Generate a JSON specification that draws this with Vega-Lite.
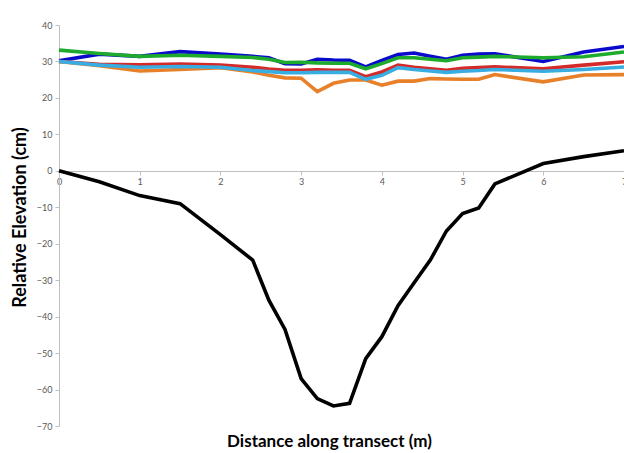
{
  "$schema": "https://vega.github.io/schema/vega-lite/v6.json",
  "width": 565,
  "height": 401,
  "autosize": "none",
  "padding": {"left": 59, "top": 25, "right": 0, "bottom": 27},
  "background": "white",
  "config": {"view": {"stroke": null}, "font": "Lato"},
  "title": {"text": "Distance along transect (m)", "orient": "bottom", "anchor": "middle", "fontSize": 17, "fontWeight": "bold", "font": "Lato", "color": "#000000", "offset": 3, "dx": -12},
  "data": {"values": [
    {"d":0,"v":30.2,"s":"s1"},{"d":0.5,"v":32.0,"s":"s1"},{"d":1.0,"v":31.4,"s":"s1"},{"d":1.5,"v":32.7,"s":"s1"},{"d":2.0,"v":32.0,"s":"s1"},{"d":2.4,"v":31.4,"s":"s1"},{"d":2.6,"v":31.0,"s":"s1"},{"d":2.8,"v":29.4,"s":"s1"},{"d":3.0,"v":29.3,"s":"s1"},{"d":3.2,"v":30.6,"s":"s1"},{"d":3.4,"v":30.4,"s":"s1"},{"d":3.6,"v":30.3,"s":"s1"},{"d":3.8,"v":28.5,"s":"s1"},{"d":4.0,"v":30.3,"s":"s1"},{"d":4.2,"v":31.9,"s":"s1"},{"d":4.4,"v":32.3,"s":"s1"},{"d":4.6,"v":31.4,"s":"s1"},{"d":4.8,"v":30.6,"s":"s1"},{"d":5.0,"v":31.7,"s":"s1"},{"d":5.2,"v":32.0,"s":"s1"},{"d":5.4,"v":32.1,"s":"s1"},{"d":6.0,"v":30.0,"s":"s1"},{"d":6.5,"v":32.6,"s":"s1"},{"d":7.0,"v":34.1,"s":"s1"},
    {"d":0,"v":30.0,"s":"s2"},{"d":0.5,"v":29.2,"s":"s2"},{"d":1.0,"v":29.1,"s":"s2"},{"d":1.5,"v":29.3,"s":"s2"},{"d":2.0,"v":29.0,"s":"s2"},{"d":2.4,"v":28.4,"s":"s2"},{"d":2.6,"v":27.9,"s":"s2"},{"d":2.8,"v":27.6,"s":"s2"},{"d":3.0,"v":27.6,"s":"s2"},{"d":3.2,"v":27.7,"s":"s2"},{"d":3.4,"v":27.6,"s":"s2"},{"d":3.6,"v":27.6,"s":"s2"},{"d":3.8,"v":25.8,"s":"s2"},{"d":4.0,"v":27.1,"s":"s2"},{"d":4.2,"v":29.0,"s":"s2"},{"d":4.4,"v":28.4,"s":"s2"},{"d":4.6,"v":28.0,"s":"s2"},{"d":4.8,"v":27.6,"s":"s2"},{"d":5.0,"v":28.1,"s":"s2"},{"d":5.2,"v":28.3,"s":"s2"},{"d":5.4,"v":28.5,"s":"s2"},{"d":6.0,"v":28.0,"s":"s2"},{"d":6.5,"v":29.0,"s":"s2"},{"d":7.0,"v":29.9,"s":"s2"},
    {"d":0,"v":30.0,"s":"s3"},{"d":0.5,"v":28.8,"s":"s3"},{"d":1.0,"v":27.4,"s":"s3"},{"d":1.5,"v":27.8,"s":"s3"},{"d":2.0,"v":28.3,"s":"s3"},{"d":2.4,"v":27.1,"s":"s3"},{"d":2.6,"v":26.2,"s":"s3"},{"d":2.8,"v":25.5,"s":"s3"},{"d":3.0,"v":25.4,"s":"s3"},{"d":3.2,"v":21.7,"s":"s3"},{"d":3.4,"v":24.0,"s":"s3"},{"d":3.6,"v":24.9,"s":"s3"},{"d":3.8,"v":24.9,"s":"s3"},{"d":4.0,"v":23.5,"s":"s3"},{"d":4.2,"v":24.6,"s":"s3"},{"d":4.4,"v":24.6,"s":"s3"},{"d":4.6,"v":25.3,"s":"s3"},{"d":4.8,"v":25.2,"s":"s3"},{"d":5.0,"v":25.1,"s":"s3"},{"d":5.2,"v":25.1,"s":"s3"},{"d":5.4,"v":26.4,"s":"s3"},{"d":6.0,"v":24.4,"s":"s3"},{"d":6.5,"v":26.3,"s":"s3"},{"d":7.0,"v":26.4,"s":"s3"},
    {"d":0,"v":33.1,"s":"s4"},{"d":0.5,"v":32.2,"s":"s4"},{"d":1.0,"v":31.4,"s":"s4"},{"d":1.5,"v":31.7,"s":"s4"},{"d":2.0,"v":31.4,"s":"s4"},{"d":2.4,"v":31.1,"s":"s4"},{"d":2.6,"v":30.6,"s":"s4"},{"d":2.8,"v":29.7,"s":"s4"},{"d":3.0,"v":29.8,"s":"s4"},{"d":3.2,"v":29.6,"s":"s4"},{"d":3.4,"v":29.5,"s":"s4"},{"d":3.6,"v":29.5,"s":"s4"},{"d":3.8,"v":28.0,"s":"s4"},{"d":4.0,"v":29.4,"s":"s4"},{"d":4.2,"v":31.0,"s":"s4"},{"d":4.4,"v":31.0,"s":"s4"},{"d":4.6,"v":30.6,"s":"s4"},{"d":4.8,"v":30.2,"s":"s4"},{"d":5.0,"v":31.0,"s":"s4"},{"d":5.2,"v":31.2,"s":"s4"},{"d":5.4,"v":31.4,"s":"s4"},{"d":6.0,"v":31.0,"s":"s4"},{"d":6.5,"v":31.3,"s":"s4"},{"d":7.0,"v":32.6,"s":"s4"},
    {"d":0,"v":30.0,"s":"s5"},{"d":0.5,"v":29.0,"s":"s5"},{"d":1.0,"v":28.4,"s":"s5"},{"d":1.5,"v":28.6,"s":"s5"},{"d":2.0,"v":28.4,"s":"s5"},{"d":2.4,"v":27.5,"s":"s5"},{"d":2.6,"v":27.2,"s":"s5"},{"d":2.8,"v":26.9,"s":"s5"},{"d":3.0,"v":26.9,"s":"s5"},{"d":3.2,"v":27.0,"s":"s5"},{"d":3.4,"v":27.0,"s":"s5"},{"d":3.6,"v":27.0,"s":"s5"},{"d":3.8,"v":25.1,"s":"s5"},{"d":4.0,"v":26.2,"s":"s5"},{"d":4.2,"v":28.3,"s":"s5"},{"d":4.4,"v":27.8,"s":"s5"},{"d":4.6,"v":27.4,"s":"s5"},{"d":4.8,"v":27.0,"s":"s5"},{"d":5.0,"v":27.3,"s":"s5"},{"d":5.2,"v":27.5,"s":"s5"},{"d":5.4,"v":27.8,"s":"s5"},{"d":6.0,"v":27.3,"s":"s5"},{"d":6.5,"v":27.8,"s":"s5"},{"d":7.0,"v":28.5,"s":"s5"},
    {"d":0,"v":0,"s":"s6"},{"d":0.5,"v":-3.0,"s":"s6"},{"d":1.0,"v":-6.8,"s":"s6"},{"d":1.5,"v":-9.0,"s":"s6"},{"d":2.0,"v":-17.5,"s":"s6"},{"d":2.4,"v":-24.5,"s":"s6"},{"d":2.6,"v":-35.5,"s":"s6"},{"d":2.8,"v":-43.5,"s":"s6"},{"d":3.0,"v":-57.0,"s":"s6"},{"d":3.2,"v":-62.5,"s":"s6"},{"d":3.4,"v":-64.5,"s":"s6"},{"d":3.6,"v":-63.8,"s":"s6"},{"d":3.8,"v":-51.5,"s":"s6"},{"d":4.0,"v":-45.5,"s":"s6"},{"d":4.2,"v":-37.0,"s":"s6"},{"d":4.4,"v":-30.7,"s":"s6"},{"d":4.6,"v":-24.5,"s":"s6"},{"d":4.8,"v":-16.5,"s":"s6"},{"d":5.0,"v":-11.7,"s":"s6"},{"d":5.2,"v":-10.2,"s":"s6"},{"d":5.4,"v":-3.6,"s":"s6"},{"d":6.0,"v":2.0,"s":"s6"},{"d":6.5,"v":3.9,"s":"s6"},{"d":7.0,"v":5.5,"s":"s6"}
  ]},
  "mark": {"type": "line", "strokeJoin": "miter", "clip": false},
  "encoding": {
    "x": {"field": "d", "type": "quantitative",
      "scale": {"domain": [0, 7], "nice": false, "zero": false},
      "axis": {"values": [0,1,2,3,4,5,6,7], "offset": -255, "grid": false, "title": null,
        "domainColor": "#bfbfbf", "domainWidth": 1, "tickColor": "#bfbfbf", "tickSize": 4,
        "labelColor": "#595959", "labelFontSize": 9, "labelFont": "Lato", "labelPadding": 2, "labelFlush": false}},
    "y": {"field": "v", "type": "quantitative",
      "scale": {"domain": [-70, 40], "nice": false},
      "axis": {"values": [-70,-60,-50,-40,-30,-20,-10,0,10,20,30,40], "grid": false,
        "title": "Relative Elevation (cm)", "titleFontSize": 18, "titleFontWeight": "bold", "titleFont": "Lato", "titleColor": "#000000",
        "titleX": -39, "titleY": 192, "titleAngle": -90, "titleAlign": "center", "titleBaseline": "middle",
        "domainColor": "#bfbfbf", "domainWidth": 1, "tickColor": "#bfbfbf", "tickSize": 4,
        "labelColor": "#595959", "labelFontSize": 9, "labelFont": "Lato", "labelPadding": 3}},
    "color": {"field": "s", "type": "nominal", "legend": null,
      "scale": {"domain": ["s1","s2","s3","s4","s5","s6"], "range": ["#0A0ACC","#D42A2A","#E8802A","#1EAA2C","#38ADE2","#000000"]}},
    "strokeWidth": {"field": "s", "type": "nominal", "legend": null,
      "scale": {"domain": ["s1","s2","s3","s4","s5","s6"], "range": [3.6,3.6,3.6,3.6,3.6,4.2]}}
  }
}
